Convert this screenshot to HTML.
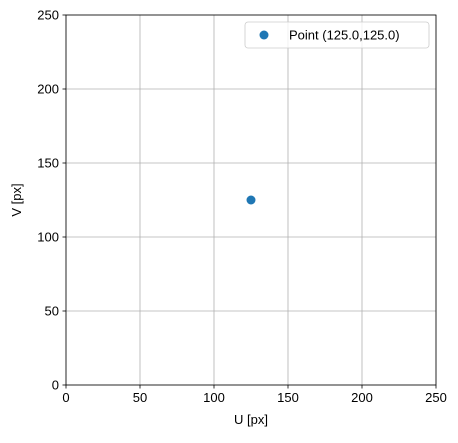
<!DOCTYPE html>
<html><head><meta charset="utf-8"><style>
body{margin:0;background:#fff;}
svg text{font-family:"Liberation Sans","DejaVu Sans",sans-serif;font-size:13px;fill:#000;}
</style></head><body>
<svg id="chart" width="458" height="438" xmlns="http://www.w3.org/2000/svg"></svg>
<script>
const xTicks=[0,50,100,150,200,250];
const yTicks=[0,50,100,150,200,250];
const pointsU=[125.0];
const pointsV=[125.0];
const seriesLabel="Point (125.0,125.0)";
const L=66,R=436,T=15,B=385,MIN=0,MAX=250;
const sx=v=>L+(v-MIN)/(MAX-MIN)*(R-L);
const sy=v=>B-(v-MIN)/(MAX-MIN)*(B-T);
const svg=document.getElementById('chart');
const NS='http://www.w3.org/2000/svg';
function mk(tag,attrs,parent){const e=document.createElementNS(NS,tag);for(const k in attrs)e.setAttribute(k,attrs[k]);(parent||svg).appendChild(e);return e;}
const grid=mk('g',{});


xTicks.forEach(t=>{const x=sx(t);
 const l=mk('line',{x1:x,x2:x,y1:T,y2:B,stroke:'#b0b0b0','stroke-width':0.8},grid);
 
 const tk=mk('line',{x1:x,x2:x,y1:B,y2:B+3.5,stroke:'#000','stroke-width':0.8});
 
 const tx=mk('text',{x:x,y:B+17,'text-anchor':'middle'});tx.textContent=t;
 
});
yTicks.forEach(t=>{const y=sy(t);
 const l=mk('line',{x1:L,x2:R,y1:y,y2:y,stroke:'#b0b0b0','stroke-width':0.8},grid);
 
 const tk=mk('line',{x1:L-3.5,x2:L,y1:y,y2:y,stroke:'#000','stroke-width':0.8});
 
 const tx=mk('text',{x:L-7,y:y+4.5,'text-anchor':'end'});tx.textContent=t;
 
});
pointsU.forEach((u,i)=>{const c=mk('circle',{cx:sx(u),cy:sy(pointsV[i]),r:4.5,fill:'#1f77b4'});
 });
const fr=mk('rect',{x:L,y:T,width:R-L,height:B-T,fill:'none',stroke:'#000','stroke-width':0.8});

const xl=mk('text',{x:(L+R)/2,y:424,'text-anchor':'middle'});xl.textContent='U [px]';

const yl=mk('text',{x:21,y:(T+B)/2,'text-anchor':'middle',transform:'rotate(-90 21 '+((T+B)/2)+')'});yl.textContent='V [px]';

const lg=mk('g',{});

mk('rect',{x:245,y:22,width:184,height:26,rx:3,fill:'#fff','fill-opacity':0.8,stroke:'#ccc','stroke-width':0.8},lg);
mk('circle',{cx:264,cy:35,r:4.5,fill:'#1f77b4'},lg);
const lt=mk('text',{x:289,y:39.5},lg);lt.textContent=seriesLabel;

</script>
</body></html>
